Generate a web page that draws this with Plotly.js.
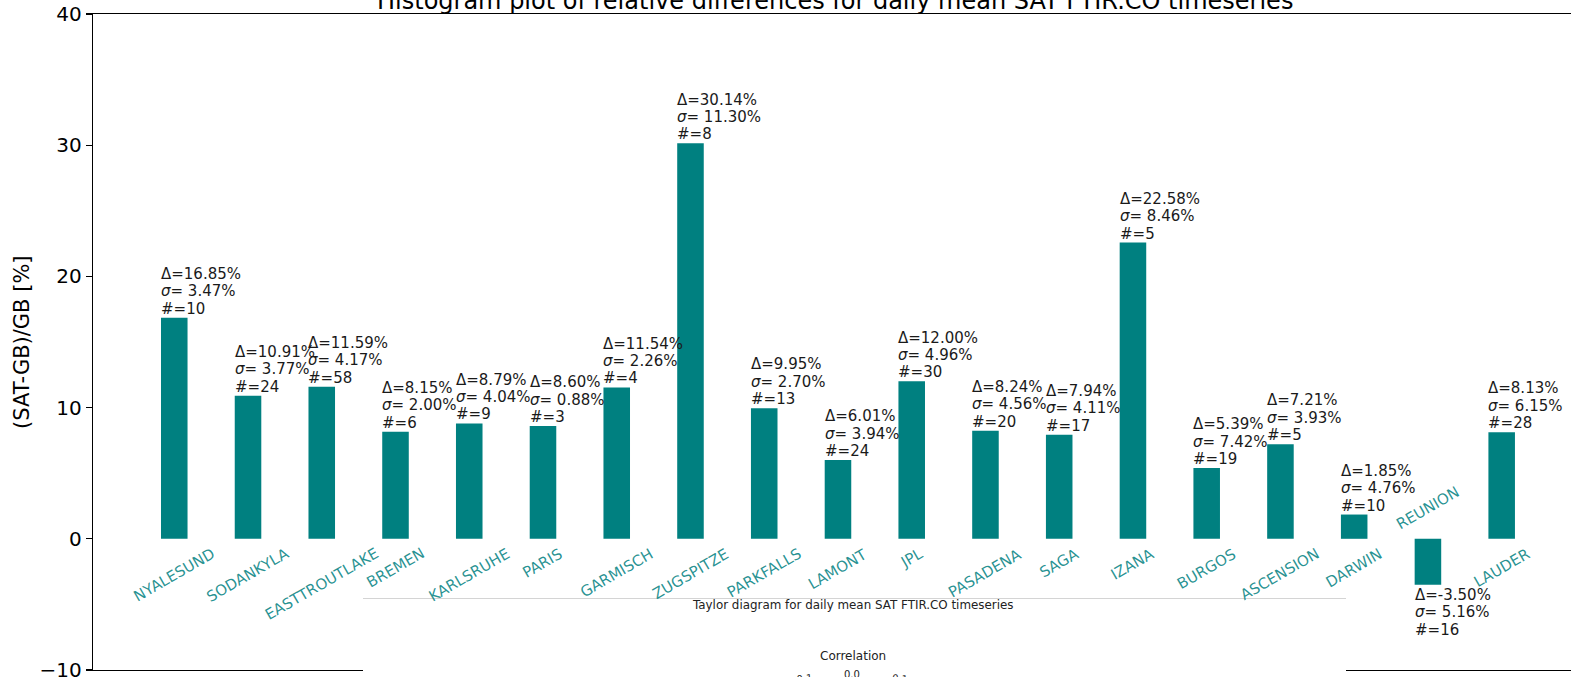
<!DOCTYPE html>
<html>
<head>
<meta charset="utf-8">
<script src="https://cdn.plot.ly/plotly-3.0.1.min.js"></script>
<style>
  html, body { margin: 0; padding: 0; background: #fff; overflow: hidden; }
  #chart { width: 1571px; height: 677px; }
</style>
</head>
<body>
<div id="chart"></div>
<script>
// Relative differences (SAT-GB)/GB per FTIR station, daily mean CO
const stations = ['NYALESUND', 'SODANKYLA', 'EASTTROUTLAKE', 'BREMEN', 'KARLSRUHE', 'PARIS',
  'GARMISCH', 'ZUGSPITZE', 'PARKFALLS', 'LAMONT', 'JPL', 'PASADENA', 'SAGA', 'IZANA',
  'BURGOS', 'ASCENSION', 'DARWIN', 'REUNION', 'LAUDER'];
const delta = [16.85, 10.91, 11.59, 8.15, 8.79, 8.60, 11.54, 30.14, 9.95, 6.01, 12.00,
  8.24, 7.94, 22.58, 5.39, 7.21, 1.85, -3.50, 8.13];
const sigma = [3.47, 3.77, 4.17, 2.00, 4.04, 0.88, 2.26, 11.30, 2.70, 3.94, 4.96,
  4.56, 4.11, 8.46, 7.42, 3.93, 4.76, 5.16, 6.15];
const nobs = [10, 24, 58, 6, 9, 3, 4, 8, 13, 24, 30, 20, 17, 5, 19, 5, 10, 16, 28];
const yTicks = [-10, 0, 10, 20, 30, 40];
const taylorTicks = ['-0.1', '0.0', '0.1'];

// Page geometry (pixels) and helpers converting pixel positions to paper units
const W = 1571, H = 677, ML = 93, MT = 14, MB = 7, MR = 0;
const plotW = W - ML - MR, plotH = H - MT - MB;
const px = x => (x - ML) / plotW;
const py = y => (H - MB - y) / plotH;

const FONT = 'DejaVu Sans, Verdana, sans-serif';
const BAR = '#008080';
const LABEL = 'rgba(0,128,128,0.85)';
const TEXT = '#1a1a1a';
const BAR_W = 0.36;
const LINE_H = 17.4;

const idx = stations.map((_, i) => i);
const annotations = [];

idx.forEach(i => {
  const v = delta[i];
  const up = v >= 0;
  const lines = [
    '\u0394=' + v.toFixed(2) + '%',
    '<i>\u03c3</i>= ' + sigma[i].toFixed(2) + '%',
    '#=' + nobs[i]
  ];
  lines.forEach((t, k) => {
    annotations.push({
      x: i - BAR_W / 2, y: v, xref: 'x', yref: 'y',
      text: t, showarrow: false, xanchor: 'left', yanchor: 'middle',
      xshift: -2,
      yshift: up ? 9 + (2 - k) * LINE_H : -(10 + k * LINE_H),
      font: { family: FONT, size: 15, color: TEXT }
    });
  });
  // station name, rotated, centred under (or above, for negative bars) the baseline
  annotations.push({
    x: i, y: 0, xref: 'x', yref: 'y',
    text: stations[i], showarrow: false, textangle: -30,
    xanchor: 'center', yanchor: up ? 'top' : 'bottom',
    yshift: up ? -3 : 3,
    font: { family: FONT, size: 15, color: LABEL }
  });
});

// figure title
annotations.push({
  xref: 'paper', yref: 'paper', x: px(835), y: py(0.5),
  text: 'Histogram plot of relative differences for daily mean SAT FTIR.CO timeseries',
  showarrow: false, xanchor: 'center', yanchor: 'middle',
  font: { family: FONT, size: 24, color: '#000' }
});
// y-axis title
annotations.push({
  xref: 'paper', yref: 'paper', x: px(22), y: py(342),
  text: '(SAT-GB)/GB [%]', textangle: -90, showarrow: false,
  xanchor: 'center', yanchor: 'middle',
  font: { family: FONT, size: 21, color: '#000' }
});

// Taylor diagram panel header
annotations.push({
  xref: 'paper', yref: 'paper', x: px(853), y: py(605),
  text: 'Taylor diagram for daily mean SAT FTIR.CO timeseries', showarrow: false,
  xanchor: 'center', yanchor: 'middle',
  font: { family: FONT, size: 11.9, color: '#222' }
});
annotations.push({
  xref: 'paper', yref: 'paper', x: px(853), y: py(656),
  text: 'Correlation', showarrow: false, xanchor: 'center', yanchor: 'middle',
  font: { family: FONT, size: 12, color: '#222' }
});
const taylorTickPos = [[803, 678, -6], [852, 674, 0], [900, 678, 6]];
taylorTicks.forEach((t, k) => {
  const p = taylorTickPos[k];
  annotations.push({
    xref: 'paper', yref: 'paper', x: px(p[0]), y: py(p[1]),
    text: t, showarrow: false, textangle: p[2], xanchor: 'center', yanchor: 'middle',
    font: { family: FONT, size: 10, color: '#222' }
  });
});

const trace = {
  type: 'bar', x: idx, y: delta, width: BAR_W,
  marker: { color: BAR, line: { width: 0 } },
  hoverinfo: 'skip'
};

const layout = {
  width: W, height: H,
  margin: { l: ML, r: MR, t: MT, b: MB, pad: 0 },
  paper_bgcolor: '#fff', plot_bgcolor: '#fff',
  showlegend: false,
  font: { family: FONT, color: '#000' },
  xaxis: {
    range: [-1.102, 18.94], showline: true, mirror: true, linecolor: '#000', linewidth: 1.3,
    showticklabels: false, ticks: '', showgrid: false, zeroline: false, fixedrange: true
  },
  yaxis: {
    range: [-10, 40], tickvals: yTicks, ticks: 'outside', ticklen: 6, tickwidth: 1.2,
    tickcolor: '#000', showline: true, linecolor: '#000', linewidth: 1.3,
    showgrid: false, zeroline: false, fixedrange: true, ticklabeloverflow: 'allow',
    tickfont: { family: FONT, size: 20, color: '#000' }
  },
  shapes: [
    { type: 'rect', xref: 'paper', yref: 'paper', x0: px(363), x1: px(1346), y0: py(700), y1: py(598),
      fillcolor: '#fff', line: { width: 0 }, layer: 'above' },
    { type: 'line', xref: 'paper', yref: 'paper', x0: px(363), x1: px(1346), y0: py(598.5), y1: py(598.5),
      line: { color: '#d4d4d4', width: 1 }, layer: 'above' }
  ],
  annotations: annotations
};

Plotly.newPlot('chart', [trace], layout, { displayModeBar: false, staticPlot: true });
</script>
</body>
</html>
